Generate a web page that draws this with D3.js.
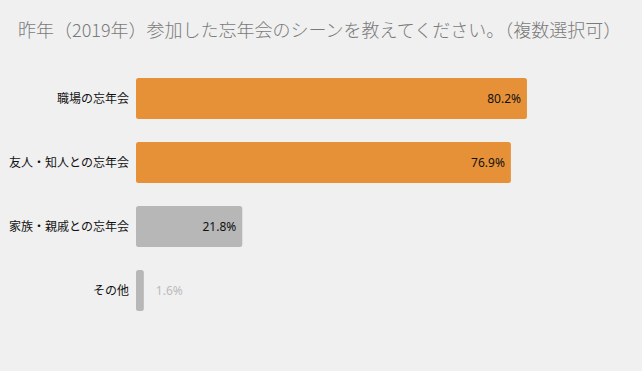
<!DOCTYPE html>
<html>
<head>
<meta charset="utf-8">
<script src="https://cdn.jsdelivr.net/npm/d3@7"></script>
<style>
  body { margin: 0; background: #f0f0f0; }
  svg { display: block; font-family: "Noto Sans CJK JP", "Noto Sans", sans-serif; }
</style>
</head>
<body>
<svg width="642" height="371"></svg>
<script>
// chart data
var categories = ["職場の忘年会", "友人・知人との忘年会", "家族・親戚との忘年会", "その他"];
var values = [80.2, 76.9, 21.8, 1.6];
var barColors = ["#e69138", "#e69138", "#b7b7b7", "#b7b7b7"];
var title = "昨年（2019年）参加した忘年会のシーンを教えてください。（複数選択可）";

var svg = d3.select("svg");

svg.append("rect")
    .attr("width", 642).attr("height", 371)
    .attr("fill", "#f0f0f0");

svg.append("text")
    .attr("x", 18)
    .attr("y", 37)
    .attr("fill", "#7a7a7a")
    .attr("font-size", 18)
    .attr("font-weight", 300)
    .text(title);

var x = d3.scaleLinear().domain([0, 100]).range([136, 623.5]);
var y = d3.scaleBand()
    .domain(categories)
    .range([78, 311])
    .paddingInner(0.36)
    .paddingOuter(0);

var data = categories.map(function(c, i) {
  return { cat: c, val: values[i], color: barColors[i] };
});

var g = svg.append("g");

// bars
g.selectAll("rect.bar")
    .data(data)
  .enter().append("rect")
    .attr("class", "bar")
    .attr("x", x(0))
    .attr("y", function(d) { return y(d.cat); })
    .attr("width", function(d) { return x(d.val) - x(0); })
    .attr("height", y.bandwidth())
    .attr("rx", 2.5)
    .attr("fill", function(d) { return d.color; });

// category labels
g.selectAll("text.cat")
    .data(data)
  .enter().append("text")
    .attr("class", "cat")
    .attr("x", 129)
    .attr("y", function(d) { return y(d.cat) + y.bandwidth() / 2; })
    .attr("dy", "0.35em")
    .attr("text-anchor", "end")
    .attr("font-size", 12)
    .attr("fill", "#111")
    .text(function(d) { return d.cat; });

// value labels: inside the bar if it fits, else just past it
g.selectAll("text.val")
    .data(data)
  .enter().append("text")
    .attr("class", "val")
    .attr("x", function(d) { return d.val > 5 ? x(d.val) - 6 : x(d.val) + 12; })
    .attr("y", function(d) { return y(d.cat) + y.bandwidth() / 2; })
    .attr("dy", "0.35em")
    .attr("text-anchor", function(d) { return d.val > 5 ? "end" : "start"; })
    .attr("font-family", "'Noto Sans', sans-serif")
    .attr("font-size", 12)
    .attr("fill", function(d) { return d.val > 5 ? "#111" : "#bbb"; })
    .text(function(d) { return d.val.toFixed(1) + "%"; });
</script>
</body>
</html>
